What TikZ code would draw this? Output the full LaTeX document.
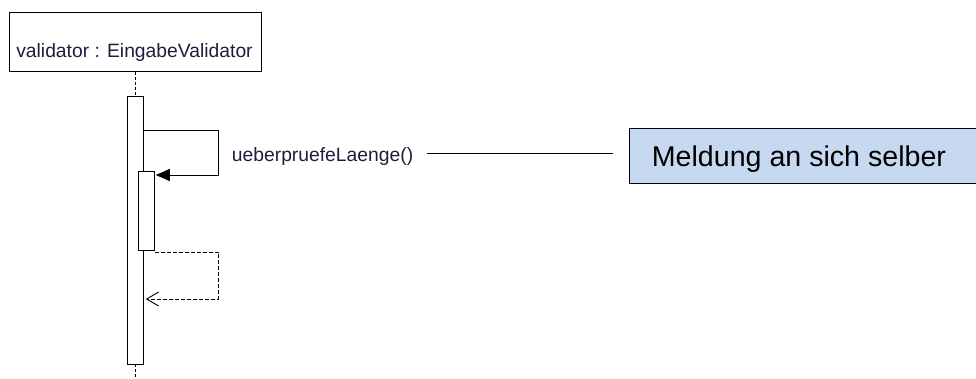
\documentclass[tikz,border=0pt]{standalone}
\usepackage{fontspec}
\setmainfont{Liberation Sans}
\usetikzlibrary{arrows.meta}
\definecolor{notefill}{HTML}{C6D9F1}
\definecolor{umltext}{HTML}{1E1E3C}
\begin{document}
\begin{tikzpicture}[x=1pt,y=-1pt,
  objbox/.style={draw, line width=1pt, inner sep=0pt, anchor=north west},
  actbar/.style={draw, fill=white, line width=0.9pt, inner sep=0pt},
  lifeline/.style={line width=0.9pt, dash pattern=on 3pt off 2pt},
  callmsg/.style={line width=1pt, -{Triangle[length=14pt,width=12pt]}},
  retmsg/.style={line width=0.9pt, dash pattern=on 4pt off 2pt, -{Straight Barb[length=12pt,width=14pt,line width=0.9pt]}},
  umllabel/.style={font=\fontsize{19.3}{22}\selectfont, text=umltext, inner sep=0pt},
  notebox/.style={draw, fill=notefill, line width=1pt, inner sep=0pt, anchor=north west},
  notetext/.style={font=\fontsize{28.6}{32}\selectfont, inner sep=0pt}
]
\useasboundingbox (0,0) rectangle (976,378);

% object head
\node[objbox, minimum width=252pt, minimum height=59pt] (obj) at (9,12) {};
\node[umllabel, anchor=base] (objname) at (134.5,57) {validator : EingabeValidator};

% activation bars
\node[actbar, minimum width=16pt, minimum height=267.3pt] (act1) at (135.3,230.35) {};
\node[actbar, minimum width=16.3pt, minimum height=79pt] (act2) at (146.15,211.2) {};

% lifeline
\coordinate (lifeend) at (135.3,378);
\draw[lifeline] (obj.south -| act1.north) -- (act1.north);
\draw[lifeline] (act1.south) -- (lifeend);

% self call
\coordinate (callA) at (218.7,130.7);
\coordinate (callB) at (218.7,175);
\draw[callmsg] (act1.east |- callA) -- (callA) -- (callB) -- ([xshift=1pt]act2.east |- callB);

% return
\coordinate (retA) at (218.7,252.3);
\coordinate (retB) at (218.7,299);
\draw[retmsg] (act2.east |- retA) -- (retA) -- (retB) -- ([xshift=2pt]act1.east |- retB);

% message label
\node[umllabel, anchor=base west] (msg) at (231.7,161.5) {ueberpruefeLaenge()};

% note
\node[notebox, minimum width=346.5pt, minimum height=55pt] (note) at (629,128.3) {};
\node[notetext, anchor=base west] (notelbl) at (651.7,166.7) {Meldung an sich selber};
\draw[line width=1.2pt] ([xshift=13.7pt]msg.east |- 0,153.5) -- ([xshift=-15.7pt]note.west |- 0,153.5);
\end{tikzpicture}
\end{document}
